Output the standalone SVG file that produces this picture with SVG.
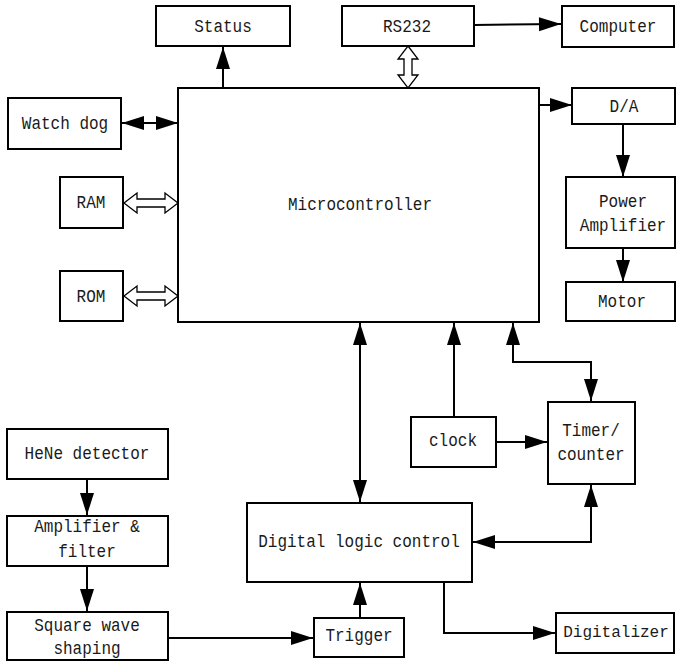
<svg xmlns="http://www.w3.org/2000/svg" width="676" height="665" viewBox="0 0 676 665">
<style>
.b{fill:#fff;stroke:#000;stroke-width:2}
.t{font-family:"Liberation Mono","DejaVu Sans Mono",monospace;font-size:17.5px;text-anchor:middle;fill:#1a1a1a}
.c{fill:none;stroke:#000;stroke-width:2}
.h{fill:#fff;stroke:#000;stroke-width:1.3;stroke-linejoin:miter}
</style>
<defs>
<marker id="ah" markerUnits="userSpaceOnUse" markerWidth="22" markerHeight="14" refX="22" refY="7" orient="auto-start-reverse" overflow="visible">
<path d="M0,0 L22,7 L0,14 z" fill="#000"/>
</marker>
</defs>
<rect width="676" height="665" fill="#fff"/>

<g id="connectors">
<line class="c" x1="223" y1="88" x2="223" y2="47" marker-end="url(#ah)"/>
<polygon class="h" points="408,46 418,59 412,59 412,75 418,75 408,88 398,75 404,75 404,59 398,59"/>
<line class="c" x1="474" y1="25" x2="561" y2="24" marker-end="url(#ah)"/>
<line class="c" x1="538" y1="105" x2="572" y2="105" marker-end="url(#ah)"/>
<line class="c" x1="623" y1="124" x2="623" y2="177" marker-end="url(#ah)"/>
<line class="c" x1="623" y1="248" x2="623" y2="282" marker-end="url(#ah)"/>
<line class="c" x1="122" y1="123" x2="178" y2="123" marker-start="url(#ah)" marker-end="url(#ah)"/>
<polygon class="h" points="124,203 137,193 137,199 165,199 165,193 178,203 165,213 165,207 137,207 137,213"/>
<polygon class="h" points="124,296 137,286 137,292 165,292 165,286 178,296 165,306 165,300 137,300 137,306"/>
<line class="c" x1="360" y1="323" x2="360" y2="502" marker-start="url(#ah)" marker-end="url(#ah)"/>
<line class="c" x1="454" y1="417" x2="454" y2="323" marker-end="url(#ah)"/>
<polyline class="c" points="513,323 513,362 591,362 591,401" marker-start="url(#ah)" marker-end="url(#ah)"/>
<line class="c" x1="496" y1="442" x2="547" y2="442" marker-end="url(#ah)"/>
<polyline class="c" points="473,542 591,542 591,485" marker-start="url(#ah)" marker-end="url(#ah)"/>
<polyline class="c" points="444,582 444,633 555,633" marker-end="url(#ah)"/>
<line class="c" x1="87" y1="479" x2="87" y2="515" marker-end="url(#ah)"/>
<line class="c" x1="87" y1="566" x2="87" y2="611" marker-end="url(#ah)"/>
<line class="c" x1="168" y1="638" x2="313" y2="638" marker-end="url(#ah)"/>
<line class="c" x1="360" y1="618" x2="360" y2="583" marker-end="url(#ah)"/>
</g>

<g id="status"><rect class="b" x="156" y="6" width="134" height="40"/><text class="t" x="223" y="32" textLength="57.6" lengthAdjust="spacingAndGlyphs">Status</text></g>
<g id="rs232"><rect class="b" x="342" y="6" width="132" height="40"/><text class="t" x="407" y="32" textLength="48" lengthAdjust="spacingAndGlyphs">RS232</text></g>
<g id="computer"><rect class="b" x="562" y="6" width="112" height="41"/><text class="t" x="618" y="32" textLength="76.8" lengthAdjust="spacingAndGlyphs">Computer</text></g>
<g id="microcontroller"><rect class="b" x="178" y="88" width="361" height="234"/><text class="t" x="360" y="210" textLength="144" lengthAdjust="spacingAndGlyphs">Microcontroller</text></g>
<g id="watchdog"><rect class="b" x="8" y="98" width="113" height="51"/><text class="t" x="65" y="129" textLength="86.4" lengthAdjust="spacingAndGlyphs">Watch dog</text></g>
<g id="ram"><rect class="b" x="60" y="177" width="63" height="51"/><text class="t" x="91" y="208" textLength="28.8" lengthAdjust="spacingAndGlyphs">RAM</text></g>
<g id="rom"><rect class="b" x="60" y="271" width="63" height="50"/><text class="t" x="91" y="302" textLength="28.8" lengthAdjust="spacingAndGlyphs">ROM</text></g>
<g id="da"><rect class="b" x="572" y="88" width="103" height="36"/><text class="t" x="624" y="112" textLength="28.8" lengthAdjust="spacingAndGlyphs">D/A</text></g>
<g id="poweramp"><rect class="b" x="566" y="177" width="109" height="71"/><text class="t" x="623" y="207" textLength="48" lengthAdjust="spacingAndGlyphs">Power</text><text class="t" x="623" y="231" textLength="86.4" lengthAdjust="spacingAndGlyphs">Amplifier</text></g>
<g id="motor"><rect class="b" x="566" y="282" width="109" height="39"/><text class="t" x="622" y="307" textLength="48" lengthAdjust="spacingAndGlyphs">Motor</text></g>
<g id="clock"><rect class="b" x="411" y="417" width="85" height="50"/><text class="t" x="453" y="446" textLength="48" lengthAdjust="spacingAndGlyphs">clock</text></g>
<g id="timer"><rect class="b" x="548" y="402" width="87" height="82"/><text class="t" x="591" y="436" textLength="57.6" lengthAdjust="spacingAndGlyphs">Timer/</text><text class="t" x="591" y="460" textLength="67.2" lengthAdjust="spacingAndGlyphs">counter</text></g>
<g id="hene"><rect class="b" x="7" y="429" width="161" height="50"/><text class="t" x="87" y="459" textLength="124.8" lengthAdjust="spacingAndGlyphs">HeNe detector</text></g>
<g id="amplifier"><rect class="b" x="7" y="516" width="161" height="50"/><text class="t" x="87" y="532" textLength="105.6" lengthAdjust="spacingAndGlyphs">Amplifier &amp;</text><text class="t" x="87" y="557" textLength="57.6" lengthAdjust="spacingAndGlyphs">filter</text></g>
<g id="square"><rect class="b" x="7" y="612" width="161" height="48"/><text class="t" x="87" y="631" textLength="105.6" lengthAdjust="spacingAndGlyphs">Square wave</text><text class="t" x="87" y="654" textLength="67.2" lengthAdjust="spacingAndGlyphs">shaping</text></g>
<g id="trigger"><rect class="b" x="314" y="618" width="90" height="39"/><text class="t" x="359" y="641" textLength="67.2" lengthAdjust="spacingAndGlyphs">Trigger</text></g>
<g id="dlc"><rect class="b" x="247" y="503" width="225" height="79"/><text class="t" x="359" y="547" textLength="201.6" lengthAdjust="spacingAndGlyphs">Digital logic control</text></g>
<g id="digitalizer"><rect class="b" x="556" y="613" width="118" height="40"/><text class="t" x="616" y="637" style="font-size:16px">Digitalizer</text></g>
</svg>
